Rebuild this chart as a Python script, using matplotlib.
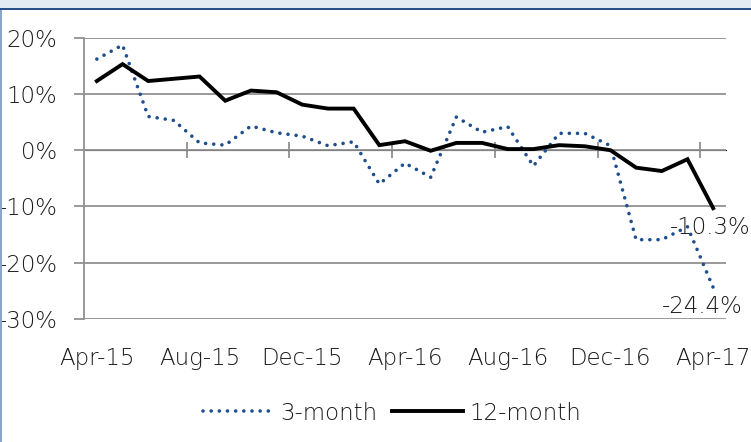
import numpy as np
import matplotlib.pyplot as plt
from matplotlib.patches import Rectangle
from matplotlib.lines import Line2D

months = ["Apr-15", "May-15", "Jun-15", "Jul-15", "Aug-15", "Sep-15", "Oct-15",
          "Nov-15", "Dec-15", "Jan-16", "Feb-16", "Mar-16", "Apr-16", "May-16",
          "Jun-16", "Jul-16", "Aug-16", "Sep-16", "Oct-16", "Nov-16", "Dec-16",
          "Jan-17", "Feb-17", "Mar-17", "Apr-17"]
three_month = [16.2, 18.7, 6.0, 5.3, 1.3, 0.9, 4.3, 3.1, 2.5, 0.8, 1.5, -6.0,
               -2.3, -4.8, 5.9, 3.2, 4.2, -2.8, 3.0, 3.0, 0.8, -15.9, -15.9,
               -13.6, -24.4]
twelve_month = [12.3, 15.3, 12.3, 12.7, 13.1, 8.8, 10.6, 10.3, 8.1, 7.4, 7.4, 0.9,
                1.6, -0.1, 1.3, 1.3, 0.2, 0.2, 0.9, 0.7, 0.0, -3.1, -3.7,
                -1.6, -10.3]
y_ticks = [20, 10, 0, -10, -20, -30]

plt.rcParams["font.family"] = ["DejaVu Sans"]
plt.rcParams["font.weight"] = 200
text_color = "#1a1a1a"
grid_color = "#919191"
dot_color = "#1f4e8c"
fs = 16.5

fig = plt.figure(figsize=(7.51, 4.42), dpi=100)
fig.patches.append(Rectangle((0, 1 - 8 / 442), 1, 8 / 442, transform=fig.transFigure,
                             facecolor="#e1e9f3", edgecolor="none"))
fig.patches.append(Rectangle((0, 1 - 10 / 442), 1, 2 / 442, transform=fig.transFigure,
                             facecolor="#264f86", edgecolor="none"))
fig.patches.append(Rectangle((0, 0), 2 / 751, 1 - 10 / 442, transform=fig.transFigure,
                             facecolor="#8aa6cc", edgecolor="none"))

ax = fig.add_axes([84 / 751, 1 - 319 / 442, (726 - 84) / 751, (319 - 37.7) / 442])
x = np.arange(len(months))

ax.plot(x, three_month, color=dot_color, lw=2.6, linestyle=(0, (0.01, 2.25)),
        dash_capstyle="round", label="3-month", zorder=3)
ax.plot(x, twelve_month, color="black", lw=2.8, label="12-month", zorder=4,
        solid_joinstyle="miter")

ax.set_xlim(-0.5, len(months) - 0.5)
ax.set_ylim(-30, 20)
ax.set_yticks(y_ticks)
ax.set_yticklabels([f"{v}%" for v in y_ticks], fontsize=fs, color=text_color)
ax.yaxis.grid(True, color=grid_color, lw=1.3)
ax.tick_params(axis="y", length=7, width=1.3, color=grid_color, pad=12)
ax.set_axisbelow(True)

for side in ["top", "right", "bottom"]:
    ax.spines[side].set_visible(False)
ax.spines["left"].set_color(grid_color)
ax.spines["left"].set_linewidth(1.3)

ax.set_xticks(x[::4])
ax.set_xticklabels(months[::4], fontsize=fs, color=text_color)
ax.tick_params(axis="x", length=0, pad=20)

# category axis crossing at 0%
zero_axis = ax.secondary_xaxis(0.6)
zero_axis.set_xticks(np.arange(3.5, len(months), 4))
zero_axis.set_xticklabels([])
zero_axis.tick_params(axis="x", direction="inout", length=12, width=1.3, color=grid_color)
zero_axis.spines["bottom"].set_color(grid_color)
zero_axis.spines["bottom"].set_linewidth(1.3)

ax.annotate("-10.3%", (24, twelve_month[-1]), xytext=(27, -14), textcoords="offset points",
            fontsize=fs, color=text_color, ha="right", va="center", annotation_clip=False)
ax.annotate("-24.4%", (24, three_month[-1]), xytext=(21, -14), textcoords="offset points",
            fontsize=fs, color=text_color, ha="right", va="center", annotation_clip=False)

handles = [Line2D([], [], color=dot_color, lw=2.6, linestyle=(0, (0.01, 2.25)),
                  dash_capstyle="round"),
           Line2D([], [], color="black", lw=2.8)]
fig.legend(handles, ["3-month", "12-month"], loc="center", bbox_to_anchor=(392 / 751, 1 - 413 / 442),
           ncol=2, frameon=False, fontsize=fs, handlelength=3.1, handletextpad=0.3,
           columnspacing=0.6, labelcolor=text_color)

fig.savefig("out.png", dpi=100)
